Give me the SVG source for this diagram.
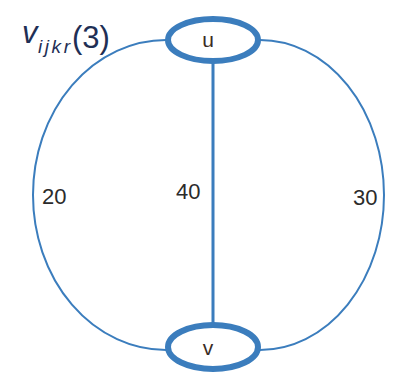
<svg xmlns="http://www.w3.org/2000/svg" width="394" height="383" viewBox="0 0 394 383">
<style>
.node{fill:none;stroke:#3b7dbd;stroke-width:6}
.edge{fill:none;stroke:#3b7dbd;stroke-width:2}
.lbl{font-family:"Liberation Sans",Arial,sans-serif;font-size:22px;fill:#2b2b2b}
.nl{font-family:"Liberation Sans",Arial,sans-serif;font-size:21px;fill:#3a2d25;text-anchor:middle}
.title{font-family:"Liberation Sans",Arial,sans-serif;fill:#1f2f55}
</style>
<rect width="394" height="383" fill="#ffffff"/>
<g id="connectors">
<path class="edge" d="M166,40 A133,155 0 0 0 166,350"/>
<path class="edge" d="M260,40 A124,155 0 0 1 260,350"/>
<line x1="213" y1="62" x2="213" y2="324" stroke="#3b7dbd" stroke-width="3"/>
</g>
<g id="node-u">
<ellipse class="node" cx="213" cy="40" rx="45" ry="21"/>
<text class="nl" x="208" y="47">u</text>
</g>
<g id="node-v">
<ellipse class="node" cx="213" cy="347" rx="45" ry="22"/>
<text class="nl" x="208" y="355">v</text>
</g>
<g id="labels">
<text class="lbl" x="42" y="204">20</text>
<text class="lbl" x="176" y="199">40</text>
<text class="lbl" x="353" y="205">30</text>
<text class="title" x="22" y="43" font-size="31" font-style="italic">v</text>
<text class="title" x="38" y="53" font-size="19" font-style="italic" textLength="32" lengthAdjust="spacing">ijkr</text>
<text class="title" x="72" y="48" font-size="31">(3)</text>
</g>
</svg>
